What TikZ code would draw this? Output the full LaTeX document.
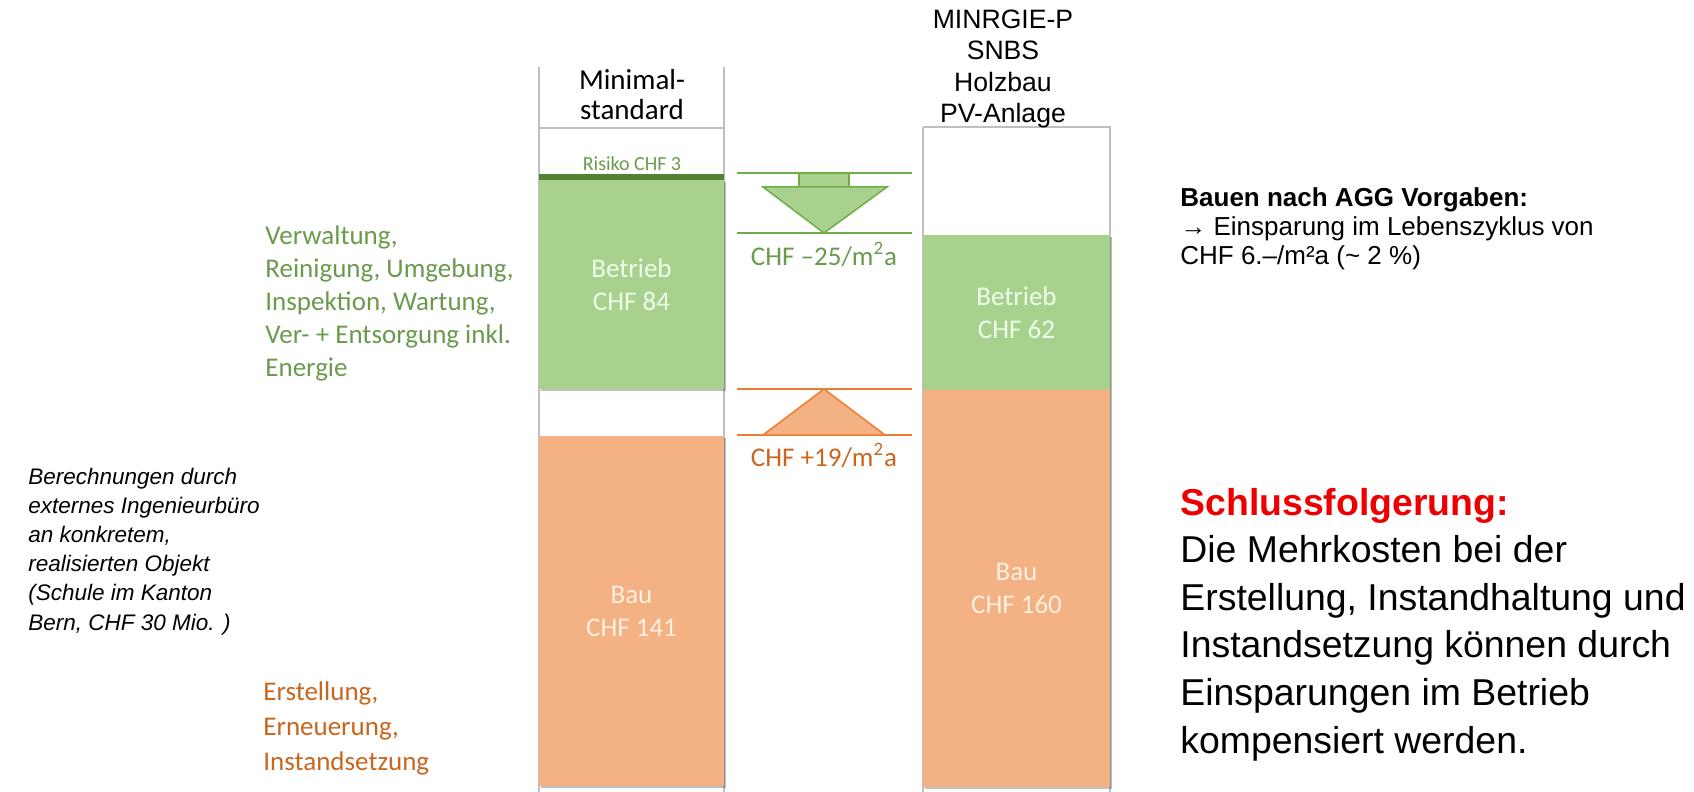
\documentclass[tikz,border=0pt]{standalone}
\usepackage{fontspec}
\setmainfont{Carlito}
\newfontfamily\arialfont{Liberation Sans}
\usetikzlibrary{calc,shadows}

\definecolor{barGreen}{HTML}{A9D18E}
\definecolor{lineGreen}{HTML}{70AD47}
\definecolor{darkGreen}{HTML}{548235}
\definecolor{textGreen}{HTML}{6A9A4C}
\definecolor{barOrange}{HTML}{F4B183}
\definecolor{lineOrange}{HTML}{ED7D31}
\definecolor{textOrange}{HTML}{C8661E}
\definecolor{gridGray}{HTML}{BFBFBF}
\definecolor{alarmRed}{HTML}{EE0000}

\tikzset{
  grid line/.style={draw=gridGray,line width=0.75pt},
  cost bar/.style={drop shadow={shadow xshift=1.2pt,shadow yshift=-1.2pt,fill=black,opacity=0.25}},
  bar text/.style={align=center,inner sep=0pt,font=\fontsize{13.5}{16.5}\selectfont},
  side text/.style={align=left,inner sep=0pt,anchor=base west,font=\fontsize{13.5}{16.5}\selectfont},
  delta text/.style={inner sep=0pt,anchor=base,font=\fontsize{13.5}{16}\selectfont}
}

\begin{document}
\begin{tikzpicture}[x=0.5pt,y=-0.5pt]
\useasboundingbox (0,0) rectangle (1694,792);

% corners of the bars
\coordinate (g1a) at (539,180);
\coordinate (g1b) at (724,389);
\coordinate (o1a) at (539,436);
\coordinate (o1b) at (724,786);
\coordinate (g2a) at (923,235);
\coordinate (g2b) at (1110,390);
\coordinate (o2a) at (923,390);
\coordinate (o2b) at (1110,787);

% the column frames
\draw[grid line] (539,67) -- (539,792);
\draw[grid line] (724,67) -- (724,792);
\draw[grid line] (539,128) -- (724,128);
\draw[grid line] (923,127) -- (923,792);
\draw[grid line] (923,127) -- (1110,127) -- (1110,792);

% the bars
\fill[barGreen,cost bar] (g1a) rectangle (g1b);
\fill[barOrange,cost bar] (o1a) rectangle (o1b);
\fill[barGreen,cost bar] (g2a) rectangle (g2b);
\fill[barOrange,cost bar] (o2a) rectangle (o2b);
% the risk stripe
\fill[darkGreen] (539,174) rectangle (724,180);

% labels inside the bars
\node[bar text,text=green!8!white] (betrieb1) at ($(g1a)!0.5!(g1b)$) {Betrieb\\CHF 84};
\node[bar text,text=orange!12!white] (bau1) at ($(o1a)!0.5!(o1b)$) {Bau\\CHF 141};
\node[bar text,text=green!8!white] (betrieb2) at ($(g2a)!0.5!(g2b)$) {Betrieb\\CHF 62};
\node[bar text,text=orange!12!white] (bau2) at ($(o2a)!0.5!(o2b)$) {Bau\\CHF 160};
\node[inner sep=0pt,anchor=base,text=textGreen,font=\fontsize{10}{12}\selectfont] (risiko) at (632,170) {Risiko CHF 3};

% the green saving arrow
\draw[lineGreen,line width=0.75pt] (737,173) -- (912,173);
\draw[lineGreen,line width=0.75pt] (737,233) -- (912,233);
\filldraw[fill=barGreen,draw=lineGreen,line width=0.75pt] (799,173) rectangle (849,187);
\filldraw[fill=barGreen,draw=lineGreen,line width=0.75pt] (763,187) -- (887,187) -- (824,233) -- cycle;
\node[delta text,text=textGreen] (minus) at (824,265) {CHF –25/m\textsuperscript{2}a};

% the orange extra cost arrow
\draw[lineOrange,line width=0.75pt] (737,389) -- (912,389);
\draw[lineOrange,line width=0.75pt] (737,435) -- (912,435);
\filldraw[fill=barOrange,draw=lineOrange,line width=0.75pt] (763,435) -- (885,435) -- (824,389) -- cycle;
\node[delta text,text=textOrange] (plus) at (824,466) {CHF +19/m\textsuperscript{2}a};

% column headers (base = last line)
\node[inner sep=0pt,anchor=base,align=center,font=\fontsize{14.5}{15.5}\selectfont] (minimal) at (632,120) {Minimal-\\standard};
\node[inner sep=0pt,anchor=base,align=center,font=\arialfont\fontsize{13.3}{15.8}\selectfont] (varianten) at (1003,123) {MINRGIE-P\\SNBS\\Holzbau\\PV-Anlage};

% texts left of the bars
\node[side text,text=textGreen] (betrieb) at (265,376) {Verwaltung,\\Reinigung, Umgebung,\\Inspektion, Wartung,\\Ver- + Entsorgung inkl.\\Energie};
\node[side text,text=textOrange,font=\fontsize{13.5}{17.5}\selectfont] (bau) at (263,770) {Erstellung,\\Erneuerung,\\Instandsetzung};
\node[side text,font=\arialfont\itshape\fontsize{11.25}{14.6}\selectfont] (quelle) at (28,630) {Berechnungen durch\\externes Ingenieurbüro\\an konkretem,\\realisierten Objekt\\(Schule im Kanton\\Bern, CHF 30 Mio. )};

% texts right of the bars
\node[side text,font=\arialfont\fontsize{13}{14.5}\selectfont] (vorgaben) at (1180,264) {\textbf{Bauen nach AGG Vorgaben:}\\→ Einsparung im Lebenszyklus von\\CHF 6.–/m²a (\textasciitilde{} 2 \%)};
\node[side text,text=alarmRed,font=\arialfont\bfseries\fontsize{18.7}{23.5}\selectfont] (fazit) at (1180,515) {Schlussfolgerung:};
\node[side text,font=\arialfont\fontsize{18.7}{23.8}\selectfont] (fazittext) at (1180,753) {Die Mehrkosten bei der\\Erstellung, Instandhaltung und\\Instandsetzung können durch\\Einsparungen im Betrieb\\kompensiert werden.};
\end{tikzpicture}
\end{document}
